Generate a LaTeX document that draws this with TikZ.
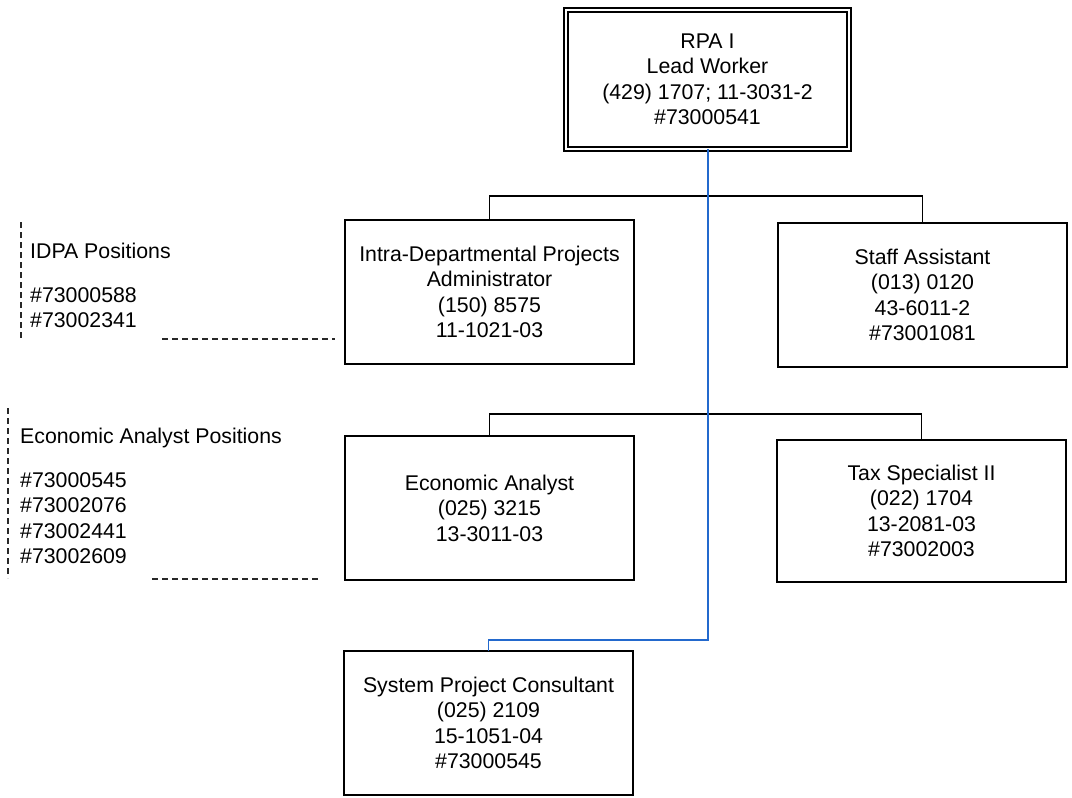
\documentclass[tikz,border=0pt]{standalone}
\usepackage{fontspec}
\setmainfont{Liberation Sans}
\usetikzlibrary{calc}
\definecolor{linkblue}{RGB}{35,105,205}
\definecolor{notegray}{RGB}{40,40,40}
\newcommand{\chartfont}{\fontsize{21.3}{25.5}\selectfont}
\tikzset{
  posbox/.style={draw, line width=1.4pt, minimum width=289pt, minimum height=144pt,
    align=center, inner sep=0pt, outer sep=0pt, anchor=north west, font=\chartfont},
  leadbox/.style={draw, double, line width=1.5pt, double distance=2.8pt,
    minimum width=283pt, minimum height=139pt, align=center, inner sep=0pt,
    outer sep=0pt, anchor=north west, font=\chartfont},
  notetext/.style={anchor=west, align=left, inner sep=0pt, font=\chartfont},
  orgline/.style={line width=1.4pt, black},
  bossline/.style={line width=1.2pt, linkblue},
  noteline/.style={line width=1.1pt, notegray, dash pattern=on 6pt off 4pt}
}
\begin{document}
\begin{tikzpicture}[x=1pt,y=-1pt]
\useasboundingbox (0,0) rectangle (1072,798);
\fill[white] (0,0) rectangle (1072,798);

% lead worker
\node[leadbox] (rpa) at (566,10) {RPA I\\Lead Worker\\(429) 1707; 11-3031-2\\\#73000541};

% first row
\node[posbox] (idpa) at (345,220) {Intra-Departmental Projects\\Administrator\\(150) 8575\\11-1021-03};
\node[posbox] (staff) at (778,223) {Staff Assistant\\(013) 0120\\43-6011-2\\\#73001081};

% second row
\node[posbox] (econ) at (345,436) {Economic Analyst\\(025) 3215\\13-3011-03};
\node[posbox, minimum height=142pt] (tax) at (777,440) {Tax Specialist II\\(022) 1704\\13-2081-03\\\#73002003};

% third row
\node[posbox] (spc) at (344,651) {System Project Consultant\\(025) 2109\\15-1051-04\\\#73000545};

% bracket connectors
\coordinate (rowa) at (0,196);
\coordinate (rowb) at (0,414);
\draw[orgline] (idpa.north) -- (idpa.north |- rowa) -| (staff.north);
\draw[orgline] (econ.north) -- (econ.north |- rowb) -| (tax.north);

% supervisory line
\coordinate (bend) at (708,640);
\draw[bossline] (rpa.south -| bend) -- (bend) -| (spc.north);

% IDPA position notes
\node[notetext] (idpahead) at (30,251) {IDPA Positions};
\node[notetext] (idpanums) at (30,307.5) {\#73000588\\\#73002341};
\draw[noteline] (21,222) -- (21,338);
\draw[noteline] (162,339) -- (335,339);

% economic analyst position notes
\node[notetext] (econhead) at (20,438) {Economic Analyst Positions};
\node[notetext] (econnums) at (20,518) {\#73000545\\\#73002076\\\#73002441\\\#73002609};
\draw[noteline] (8,408) -- (8,578);
\draw[noteline] (152,579) -- (320,579);
\end{tikzpicture}
\end{document}
